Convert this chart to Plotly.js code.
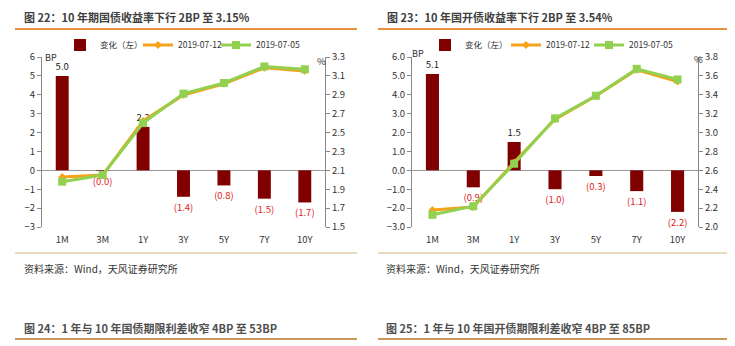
<!DOCTYPE html>
<html><head><meta charset="utf-8">
<script src="https://cdn.plot.ly/plotly-3.0.1.min.js"></script>
<style>html,body{margin:0;padding:0;background:#fff}#c{width:735px;height:346px}</style>
</head><body><div id="c"></div>
<script>
const tenors = ['1M','3M','1Y','3Y','5Y','7Y','10Y'];
// Chart 22: treasury
const gzChange = [5.0, -0.03, 2.3, -1.4, -0.8, -1.5, -1.7];
const gz0712 = [2.03, 2.05, 2.623, 2.898, 3.017, 3.185, 3.153];
const gz0705 = [1.98, 2.05, 2.60, 2.912, 3.025, 3.200, 3.170];
// Chart 23: CDB
const kfChange = [5.1, -0.9, 1.5, -1.0, -0.3, -1.1, -2.2];
const kf0712 = [2.180, 2.211, 2.685, 3.140, 3.387, 3.664, 3.540];
const kf0705 = [2.129, 2.220, 2.670, 3.150, 3.390, 3.675, 3.562];

const seriesNames = ['变化（左）', '2019-07-12', '2019-07-05'];
const titles = ['图 22：10 年期国债收益率下行 2BP 至 3.15%', '图 23：10 年国开债收益率下行 2BP 至 3.54%'];
const nextTitles = ['图 24：1 年与 10 年国债期限利差收窄 4BP 至 53BP', '图 25：1 年与 10 年国开债期限利差收窄 4BP 至 85BP'];
const source = '资料来源：Wind，天风证券研究所';

const FONT = '"Noto Sans CJK SC", "Noto Sans", sans-serif';
const BAR = '#800000', ORANGE = '#F5A31A', GREEN = '#92D050';
const lbl = v => v >= 0 ? v.toFixed(1) : '(' + Math.abs(v).toFixed(1) + ')';
const lblColor = v => v >= 0 ? '#222' : '#E02020';

function traces(change, a, b, xa, ya, yb, legs) {
  return [
    {type:'bar', x:tenors, y:change, name:seriesNames[0], xaxis:xa, yaxis:ya, legend:legs[0],
     marker:{color:BAR}, width:0.32, text:change.map(lbl), textposition:'outside', constraintext:'none',
     textfont:{size:9.5, color:change.map(lblColor), family:FONT}, cliponaxis:false},
    {type:'scatter', mode:'lines+markers', x:tenors, y:a, name:seriesNames[1], xaxis:xa, yaxis:yb, legend:legs[1],
     line:{color:ORANGE, width:3}, marker:{symbol:'diamond', size:6, color:ORANGE}, cliponaxis:false},
    {type:'scatter', mode:'lines+markers', x:tenors, y:b, name:seriesNames[2], xaxis:xa, yaxis:yb, legend:legs[2],
     line:{color:GREEN, width:3}, marker:{symbol:'square', size:8, color:GREEN}, cliponaxis:false}
  ];
}
const data = [].concat(
  traces(gzChange, gz0712, gz0705, 'x', 'y', 'y2', ['legend', 'legend2', 'legend3']),
  traces(kfChange, kf0712, kf0705, 'x2', 'y3', 'y4', ['legend4', 'legend5', 'legend6'])
);

const W = 735, H = 346;
const px = v => v / W, py = v => 1 - v / H;
const yDom = [py(227), py(57)];
const tf = {size:9.5, color:'#333', family:FONT};
function leftAx(fmt) {
  return {domain:yDom, range:[-3,6], dtick:1, tickformat:fmt, showgrid:false, zeroline:true,
    zerolinecolor:'#999', zerolinewidth:1, showline:true, linecolor:'#888', ticks:'outside', ticklen:4,
    tickcolor:'#888', tickfont:tf, fixedrange:true};
}
function rightAx(ov, anchor, r) {
  return {overlaying:ov, anchor:anchor, side:'right', range:r, tick0:r[0], dtick:0.2, tickformat:'.1f', showgrid:false,
    zeroline:false, showline:true, linecolor:'#888', ticks:'outside', ticklen:4, tickcolor:'#888', tickfont:tf};
}
function xAx(dom, anchor) {
  return {domain:dom, anchor:anchor, showgrid:false, showline:false, ticks:'', ticklabelstandoff:5,
    tickfont:{size:9.5, color:'#333', family:FONT}};
}
const legFont = {size:8.5, color:'#333', family:FONT};
const leg = x => ({orientation:'h', x:px(x), y:py(45), yanchor:'middle', xanchor:'left', font:legFont,
  bgcolor:'rgba(0,0,0,0)', itemwidth:30});
const layout = {
  width:W, height:H, margin:{l:0,r:0,t:0,b:0}, paper_bgcolor:'#fff', plot_bgcolor:'rgba(0,0,0,0)',
  font:{family:FONT}, showlegend:true,
  xaxis: xAx([px(42), px(325)], 'y'),
  yaxis: Object.assign(leftAx(), {anchor:'x'}),
  yaxis2: rightAx('y', 'x', [1.5, 3.3]),
  xaxis2: xAx([px(412), px(698)], 'y3'),
  yaxis3: Object.assign(leftAx('.1f'), {anchor:'x2'}),
  yaxis4: rightAx('y3', 'x2', [2.0, 3.8]),
  legend: leg(60), legend2: leg(138), legend3: leg(216),
  legend4: leg(425), legend5: leg(506), legend6: leg(589),
  shapes: [
    {type:'line', xref:'paper', yref:'paper', x0:px(15), x1:px(357), y0:py(29), y1:py(29), line:{color:'#E8923A', width:2}},
    {type:'line', xref:'paper', yref:'paper', x0:px(378), x1:px(727), y0:py(29), y1:py(29), line:{color:'#E8923A', width:2}},
    {type:'line', xref:'paper', yref:'paper', x0:px(15), x1:px(357), y0:py(253), y1:py(253), line:{color:'#D2B27A', width:1}},
    {type:'line', xref:'paper', yref:'paper', x0:px(378), x1:px(727), y0:py(253), y1:py(253), line:{color:'#D2B27A', width:1}},
    {type:'line', xref:'paper', yref:'paper', x0:px(15), x1:px(357), y0:py(339), y1:py(339), line:{color:'#C99A5E', width:2}},
    {type:'line', xref:'paper', yref:'paper', x0:px(378), x1:px(727), y0:py(339), y1:py(339), line:{color:'#C99A5E', width:2}}
  ],
  annotations: []
};
const ann = (x, y, text, opt) => Object.assign({xref:'paper', yref:'paper', x:px(x), y:py(y), text:text,
  showarrow:false, xanchor:'left', yanchor:'middle', font:{size:9.5, color:'#333', family:FONT}}, opt || {});
const tFont = {size:11, color:'#404040', family:FONT};
layout.annotations.push(
  ann(22, 17, '<b>' + titles[0] + '</b>', {font:tFont}),
  ann(385, 17, '<b>' + titles[1] + '</b>', {font:tFont}),
  ann(43, 57, 'BP', {font:{size:9, color:'#333', family:FONT}}),
  ann(410, 54, 'BP', {font:{size:9, color:'#333', family:FONT}}),
  ann(315, 61, '%'), ann(692, 59, '%'),
  ann(22, 268, source, {font:{size:10, color:'#333', family:FONT}}),
  ann(384, 268, source, {font:{size:10, color:'#333', family:FONT}}),
  ann(22, 328, '<b>' + nextTitles[0] + '</b>', {font:{size:11, color:'#505050', family:FONT}}),
  ann(384, 328, '<b>' + nextTitles[1] + '</b>', {font:{size:11, color:'#505050', family:FONT}})
);
Plotly.newPlot('c', data, layout, {staticPlot:true, displayModeBar:false});
</script></body></html>
